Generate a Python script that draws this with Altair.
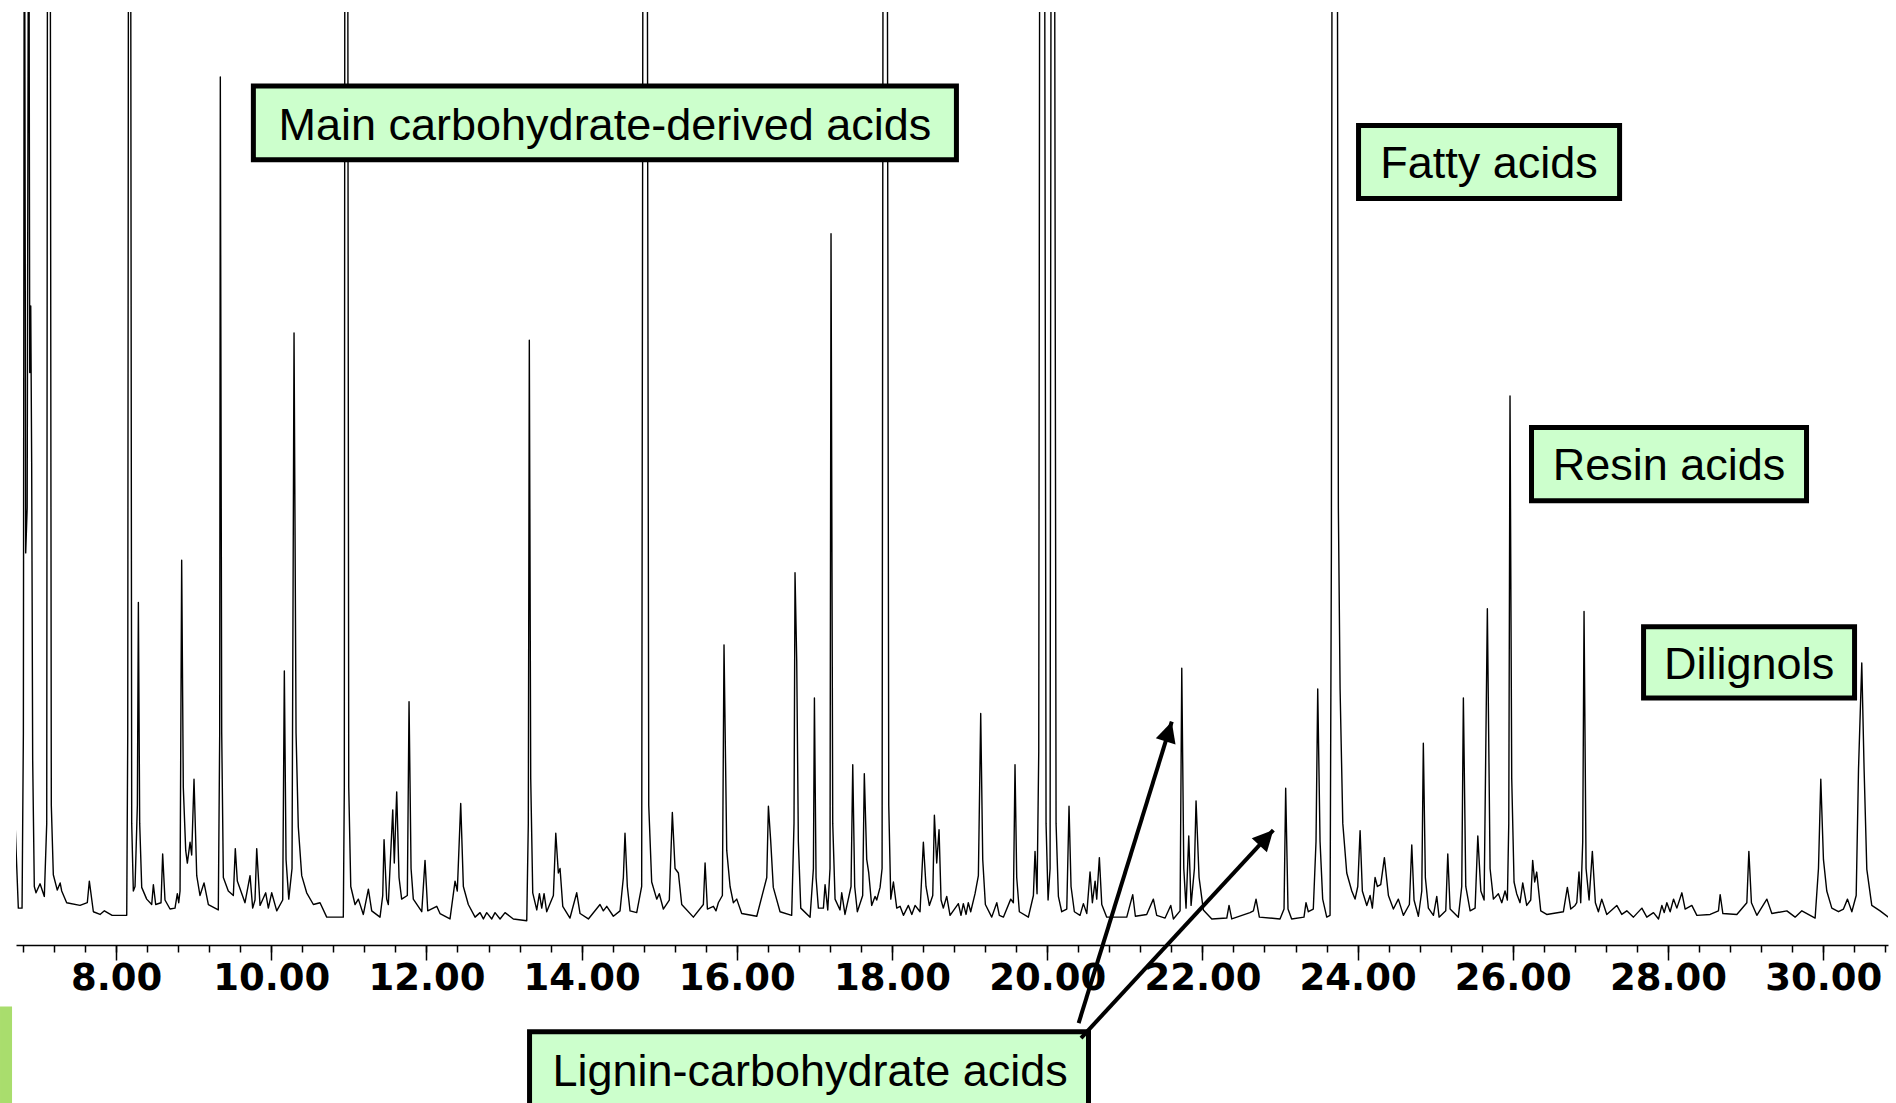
import altair as alt
import pandas as pd

# ---- chromatogram trace: retention time (min) and detector signal (% of plot height)
trace_time = [
    6.698, 6.741, 6.789, 6.806, 6.819, 6.836, 6.855, 6.875, 6.888, 6.901, 6.913, 6.926, 6.947, 6.969,
    7.021, 7.076, 7.107, 7.119, 7.149, 7.166, 7.192, 7.243, 7.280, 7.300, 7.364, 7.536, 7.630, 7.656,
    7.708, 7.794, 7.850, 7.950, 8.138, 8.151, 8.164, 8.184, 8.202, 8.223, 8.245, 8.275, 8.288, 8.305,
    8.331, 8.395, 8.460, 8.481, 8.511, 8.580, 8.601, 8.631, 8.696, 8.760, 8.790, 8.808, 8.825, 8.846,
    8.867, 8.898, 8.919, 8.954, 8.975, 9.005, 9.040, 9.082, 9.134, 9.190, 9.318, 9.336, 9.344, 9.362,
    9.383, 9.447, 9.512, 9.537, 9.563, 9.662, 9.727, 9.761, 9.791, 9.813, 9.856, 9.929, 9.963, 10.006,
    10.071, 10.148, 10.169, 10.191, 10.226, 10.268, 10.294, 10.320, 10.349, 10.393, 10.457, 10.543,
    10.629, 10.715, 10.929, 10.942, 10.951, 10.981, 10.999, 11.025, 11.080, 11.123, 11.187, 11.252,
    11.295, 11.402, 11.437, 11.454, 11.488,
    11.509, 11.566, 11.586, 11.617, 11.647, 11.681, 11.754, 11.776, 11.802, 11.831, 11.940, 11.982,
    12.017, 12.133, 12.175, 12.304, 12.369, 12.398, 12.442, 12.476, 12.540, 12.627, 12.691, 12.734,
    12.777, 12.842, 12.884, 12.949, 13.013, 13.120, 13.293, 13.313, 13.326, 13.344, 13.370, 13.422,
    13.456, 13.486, 13.516, 13.550, 13.636, 13.667, 13.700, 13.722, 13.757, 13.850, 13.937, 13.980,
    14.087, 14.237, 14.280, 14.324, 14.409, 14.495, 14.538, 14.559, 14.589, 14.624, 14.710, 14.774,
    14.796, 14.839, 14.865, 14.903, 14.968, 15.001, 15.053, 15.130, 15.169, 15.204, 15.247, 15.290,
    15.440, 15.569, 15.591, 15.621, 15.698, 15.732, 15.762, 15.814, 15.835, 15.870, 15.913, 15.955,
    15.999, 16.063, 16.257, 16.386, 16.407,
    16.437, 16.470, 16.557, 16.707, 16.737, 16.750, 16.772, 16.793, 16.824, 16.944, 16.987, 17.000,
    17.021, 17.051, 17.116, 17.137, 17.172, 17.201, 17.214, 17.236, 17.266, 17.330, 17.352, 17.394,
    17.472, 17.494, 17.519, 17.553, 17.622, 17.643, 17.674, 17.700, 17.738, 17.781, 17.803, 17.846,
    17.872, 17.889, 17.932, 17.958, 17.984, 18.018, 18.061, 18.104, 18.147, 18.211, 18.255, 18.297,
    18.361, 18.404, 18.438, 18.481, 18.525, 18.546, 18.576, 18.606, 18.632, 18.661, 18.705, 18.748,
    18.855, 18.889, 18.919, 18.954, 18.983, 19.014, 19.070, 19.113, 19.143, 19.169, 19.203, 19.285,
    19.350, 19.383, 19.435, 19.530, 19.564, 19.585, 19.607, 19.641, 19.757, 19.822, 19.843, 19.869,
    19.891, 19.908, 19.960, 19.985, 20.011, 20.037, 20.054, 20.088, 20.114, 20.144, 20.187, 20.252,
    20.281, 20.307, 20.350, 20.423, 20.466, 20.510, 20.552, 20.582, 20.617, 20.638, 20.672, 20.703,
    20.767, 21.025, 21.102, 21.136,
    21.282, 21.368, 21.411, 21.519, 21.592, 21.626, 21.712, 21.734, 21.760, 21.789, 21.824, 21.854,
    21.897, 21.918, 21.957, 22.012, 22.121, 22.314, 22.343, 22.378, 22.613, 22.657, 22.691, 22.734,
    23.000, 23.052, 23.073, 23.103, 23.150, 23.309, 23.335, 23.365, 23.429, 23.464, 23.486, 23.516,
    23.550, 23.602, 23.645, 23.662, 23.675, 23.731, 23.752, 23.774, 23.809, 23.860, 23.925, 23.967,
    24.002, 24.032, 24.061, 24.118, 24.161, 24.190, 24.225, 24.255, 24.298, 24.345, 24.397, 24.461,
    24.525, 24.590, 24.667, 24.698, 24.727, 24.783, 24.827, 24.847, 24.873, 24.912, 24.977, 25.020,
    25.050, 25.136, 25.162, 25.192, 25.298, 25.342, 25.363, 25.394, 25.450, 25.514, 25.549, 25.588,
    25.630, 25.672, 25.707, 25.750, 25.814, 25.858, 25.900, 25.930, 25.948, 25.964, 25.986, 26.016,
    26.050, 26.093, 26.128, 26.179, 26.231, 26.256, 26.282, 26.308, 26.360, 26.437, 26.652, 26.703,
    26.747, 26.802, 26.824, 26.853, 26.875, 26.901, 26.918, 26.944, 26.983, 27.025, 27.064, 27.103,
    27.146, 27.211, 27.340, 27.404, 27.469, 27.555, 27.663, 27.727, 27.813, 27.878, 27.921, 27.951,
    27.985, 28.028, 28.071, 28.114, 28.179, 28.221, 28.307, 28.372, 28.543, 28.650, 28.672, 28.707,
    28.887, 29.016, 29.042, 29.075, 29.145, 29.274, 29.338, 29.532, 29.638, 29.725, 29.896, 29.939,
    29.969, 30.003, 30.046, 30.111, 30.197, 30.261, 30.313, 30.369, 30.425, 30.455, 30.497, 30.527,
    30.562, 30.626, 30.733, 30.840,
]
trace_signal = [
    10.2, 0.6, 0.6, 20, 130, 40, 45, 130, 60, 67.4, 50, 17, 3.0, 2.3,
    3.3, 1.9, 10, 140, 140, 12, 4.3, 2.6, 3.4, 2.5, 1.2, 0.9, 1.2, 3.6,
    0.2, -0.1, 0.3, -0.2, -0.2, 20, 150, 150, 10, 2.5, 3.0, 12, 34.5, 10,
    2.9, 1.6, 1.0, 3.2, 1.0, 1.2, 6.6, 1.5, 0.5, 0.6, 2.2, 1.2, 2.5, 39.2,
    14, 7, 5.6, 7.9, 6.5, 14.9, 4.2, 2.0, 3.4, 1.0, 0.4, 20, 92.8, 20,
    4.0, 2.5, 2.0, 7.2, 3.6, 1.2, 4.2, 0.6, 1.5, 7.2, 0.9, 2.3, 0.6, 2.3,
    0.3, 1.5, 26.9, 6.0, 1.6, 5.0, 64.4, 20, 9.6, 4.2, 2.3, 1.0,
    1.2, -0.4, -0.4, 14, 150, 150, 14, 3.0, 1.0, 1.6, -0.1, 2.7,
    0.3, -0.4, 2.0, 8.2, 1.6,
    1.0, 11.5, 5.6, 13.5, 4.0, 1.6, 2.0, 23.5, 5.0, 1.6, 0.2, 5.9,
    0.3, 0.8, 0.0, -0.6, 3.6, 2.5, 12.2, 3.0, 1.0, -0.4, 0.1, -0.6,
    0.1, -0.6, 0.1, -0.6, 0.1, -0.6, -0.8, 10, 63.6, 15, 2.3, 0.4,
    2.2, 0.6, 2.2, 0.2, 2.0, 8.9, 4.5, 5.0, 0.8, -0.5, 2.3, 0.0,
    -0.6, 1.0, 0.3, 0.8, -0.3, 0.3, 4.0, 8.9, 3.0, 0.3, 0.1, 3.0,
    150, 150, 12, 3.5, 1.6, 2.2, 0.5, 1.5, 11.2, 5.0, 4.5, 1.0,
    -0.4, 1.0, 5.6, 0.5, 0.8, 0.3, 1.2, 2.0, 29.8, 7.0, 3.0, 1.2,
    1.6, 0.0, -0.3, 4.0, 11.9,
    8.0, 2.9, 0.2, -0.2, 10, 37.8, 28, 8.0, 0.6, -0.4, 5.0, 23.9,
    4.0, 0.6, 0.6, 3.2, 0.4, 5.0, 75.4, 10, 1.6, 0.4, 2.3, -0.1,
    3.0, 16.5, 3.0, 0.2, 2.0, 15.5, 6.0, 4.5, 0.9, 1.9, 1.5, 2.9,
    5.0, 150, 150, 12, 1.6, 3.5, 0.6, 0.8, -0.2, 0.9, -0.1, 0.9,
    0.2, 7.9, 3.0, 0.9, 2.0, 10.9, 5.6, 9.3, 1.5, 0.6, 1.9, -0.2,
    1.1, -0.2, 1.1, -0.1, 1.2, 0.2, 2.2, 4.2, 22.2, 6.0, 1.0, -0.4,
    1.2, -0.2, -0.4, 1.6, 1.2, 16.5, 4.0, 0.2, -0.4, 2.0, 6.9, 2.2,
    18, 150, 150, 10, 1.5, 5.0, 150, 150, 10, 1.9, 0.2, 0.5,
    11.9, 3.0, 0.2, -0.2, 1.1, 0.0, 4.6, 1.2, 3.6, 1.6, 6.2, 1.0,
    -0.4, -0.4, 2.1, -0.3,
    -0.1, 1.6, -0.2, -0.5, 0.9, -0.6, 0.3, 27.2, 5.0, 0.6, 8.6, 0.9,
    5.0, 12.5, 4.0, 0.4, -0.6, -0.5, 0.9, -0.6, 0.1, 0.3, 1.6, -0.4,
    -0.6, 0.5, 13.9, 0.5, -0.6, -0.4, 1.2, 0.2, 0.5, 8.0, 24.9, 8.0,
    1.6, -0.4, -0.2, 40, 150, 150, 45, 25, 10, 4.5, 2.5, 1.6,
    3.0, 9.2, 2.5, 0.9, 2.0, 0.6, 4.0, 3.0, 3.2, 6.2, 2.0, 0.5,
    1.6, -0.2, 1.0, 7.6, 1.5, -0.3, 2.5, 18.9, 4.0, 0.6, -0.2, 1.9,
    -0.4, 0.3, 6.6, 0.5, -0.4, 3.0, 23.9, 3.0, 0.3, 0.6, 8.6, 2.5,
    1.5, 33.8, 5.0, 1.6, 2.2, 1.2, 2.5, 1.5, 10, 57.4, 15, 3.5,
    2.2, 1.2, 3.4, 0.9, 1.5, 5.9, 3.5, 4.6, 0.3, -0.1, 0.2, 2.9,
    0.5, 0.9, 1.2, 4.6, 1.2, 8.0, 33.5, 5.0, 1.5, 6.9, 1.2, 0.2,
    1.6, -0.1, 0.9, -0.1, 0.3, -0.4, 0.6, -0.4, 0.1, -0.6, 0.9, 0.1,
    1.2, 0.2, 1.6, 0.6, 2.3, 0.5, 0.9, -0.2, -0.1, 0.3, 2.1, 0.0,
    -0.1, 1.2, 6.9, 1.2, -0.2, 1.6, 0.0, 0.3, -0.4, 0.3, -0.5, 5.0,
    14.9, 6.0, 2.5, 0.6, 0.2, 0.5, 1.6, 0.2, 2.0, 16, 27.8, 16,
    4.9, 0.9, 0.3, -0.4,
]

# ---- axis ticks (minutes)
major_ticks = [8, 10, 12, 14, 16, 18, 20, 22, 24, 26, 28, 30]
minor_ticks = [
    6.8, 7.2, 7.6, 8.0, 8.4, 8.8, 9.2, 9.6, 10.0, 10.4, 10.8, 11.2, 11.6, 12.0, 12.4, 12.8,
    13.2, 13.6, 14.0, 14.4, 14.8, 15.2, 15.6, 16.0, 16.4, 16.8, 17.2, 17.6, 18.0, 18.4, 18.8,
    19.2, 19.6, 20.0, 20.4, 20.8, 21.2, 21.6, 22.0, 22.4, 22.8, 23.2, 23.6, 24.0, 24.4, 24.8,
    25.2, 25.6, 26.0, 26.4, 26.8, 27.2, 27.6, 28.0, 28.4, 28.8, 29.2, 29.6, 30.0, 30.4, 30.8,
]

# ---- annotation labels (boxes in data units: time / signal)
label_text = ["Main carbohydrate-derived acids", "Fatty acids", "Resin acids", "Dilignols",
              "Lignin-carbohydrate acids"]
label_time = [14.30, 25.694, 28.013, 29.045, 16.944]
label_signal = [87.4, 83.1, 49.6, 27.6, -17.6]
box_t0 = [9.77, 24.012, 26.241, 27.685, 13.329]
box_t1 = [18.83, 27.376, 29.785, 30.404, 20.532]
box_s0 = [83.6, 79.3, 45.8, 23.9, -13.1]
box_s1 = [91.8, 87.4, 53.9, 31.8, -23.5]

# ---- arrows from the lignin-carbohydrate box
arrow_t0 = [20.405, 20.436]
arrow_s0 = [-12.15, -13.81]
arrow_t1 = [21.605, 22.914]
arrow_s1 = [21.28, 9.26]
arrow_angle = [17.2, 42.8]

# ---- decorative green side bar (bottom-left)
bar_t = [6.505, 6.660]
bar_s = [-10.3, -25.0]

trace_df = pd.DataFrame({"t": trace_time, "s": trace_signal})
label_df = pd.DataFrame({"text": label_text, "t": label_time, "s": label_signal,
                         "t0": box_t0, "t1": box_t1, "s0": box_s0, "s1": box_s1})
arrow_df = pd.DataFrame({"t0": arrow_t0, "s0": arrow_s0, "t1": arrow_t1, "s1": arrow_s1,
                         "a": arrow_angle})
bar_df = pd.DataFrame({"t0": [bar_t[0]], "t1": [bar_t[1]], "s0": [bar_s[0]], "s1": [bar_s[1]]})

xs = alt.Scale(domain=[6.711, 30.835], nice=False, zero=False)
ys = alt.Scale(domain=[-3.49, 100], nice=False, zero=False)

major_axis = alt.Axis(values=major_ticks, orient="bottom", tickSize=15, tickWidth=1.5,
                      tickColor="black", domain=False, grid=False, format=".2f",
                      labelFont="DejaVu Sans", labelFontWeight="bold", labelFontSize=37,
                      labelColor="black", labelPadding=0, labelFlush=False,
                      labelOverlap=False, labelBound=False, title=None)
minor_axis = alt.Axis(values=minor_ticks, orient="bottom", tickSize=7, tickWidth=1.5,
                      tickColor="black", domain=True, domainColor="black", domainWidth=1.5,
                      labels=False, grid=False, title=None)

trace = alt.Chart(trace_df).mark_line(color="black", strokeWidth=1.4, clip=True,
                                      strokeJoin="round").encode(
    x=alt.X("t:Q", scale=xs, axis=major_axis),
    y=alt.Y("s:Q", scale=ys, axis=None),
)
minor = alt.Chart(trace_df).mark_line(opacity=0).encode(
    x=alt.X("t:Q", scale=xs, axis=minor_axis),
    y=alt.Y("s:Q", scale=ys, axis=None),
)

boxes = alt.Chart(label_df).mark_rect(fill="#CCFFCC", stroke="black", strokeWidth=5,
                                      clip=False).encode(
    x=alt.X("t0:Q", scale=xs, axis=None), x2="t1:Q",
    y=alt.Y("s0:Q", scale=ys, axis=None), y2="s1:Q",
)
texts = alt.Chart(label_df).mark_text(font="Liberation Sans", fontSize=45, color="black",
                                      align="center", baseline="middle", clip=False).encode(
    x=alt.X("t:Q", scale=xs, axis=None),
    y=alt.Y("s:Q", scale=ys, axis=None),
    text="text:N",
)
arrows = alt.Chart(arrow_df).mark_rule(color="black", strokeWidth=4, clip=False).encode(
    x=alt.X("t0:Q", scale=xs, axis=None), x2="t1:Q",
    y=alt.Y("s0:Q", scale=ys, axis=None), y2="s1:Q",
)
heads = alt.Chart(arrow_df).mark_point(shape="M0,0 L-0.5,1 L0.5,1 Z", filled=True,
                                       color="black", size=1700, opacity=1,
                                       clip=False).encode(
    x=alt.X("t1:Q", scale=xs, axis=None),
    y=alt.Y("s1:Q", scale=ys, axis=None),
    angle=alt.Angle("a:Q", scale=None),
)
side_bar = alt.Chart(bar_df).mark_rect(color="#a9dd6d", clip=False).encode(
    x=alt.X("t0:Q", scale=xs, axis=None), x2="t1:Q",
    y=alt.Y("s0:Q", scale=ys, axis=None), y2="s1:Q",
)

chart = alt.layer(minor, trace, boxes, texts, arrows, heads, side_bar).resolve_scale(
    x="shared", y="shared"
).resolve_axis(x="independent").properties(
    width=1872, height=933,
    padding={"left": 16, "top": 12, "right": 8, "bottom": 158},
    autosize=alt.AutoSizeParams(type="none"),
    background="white",
).configure_view(stroke=None)

chart.save("out.html", embed_options={"renderer": "svg", "actions": False})
